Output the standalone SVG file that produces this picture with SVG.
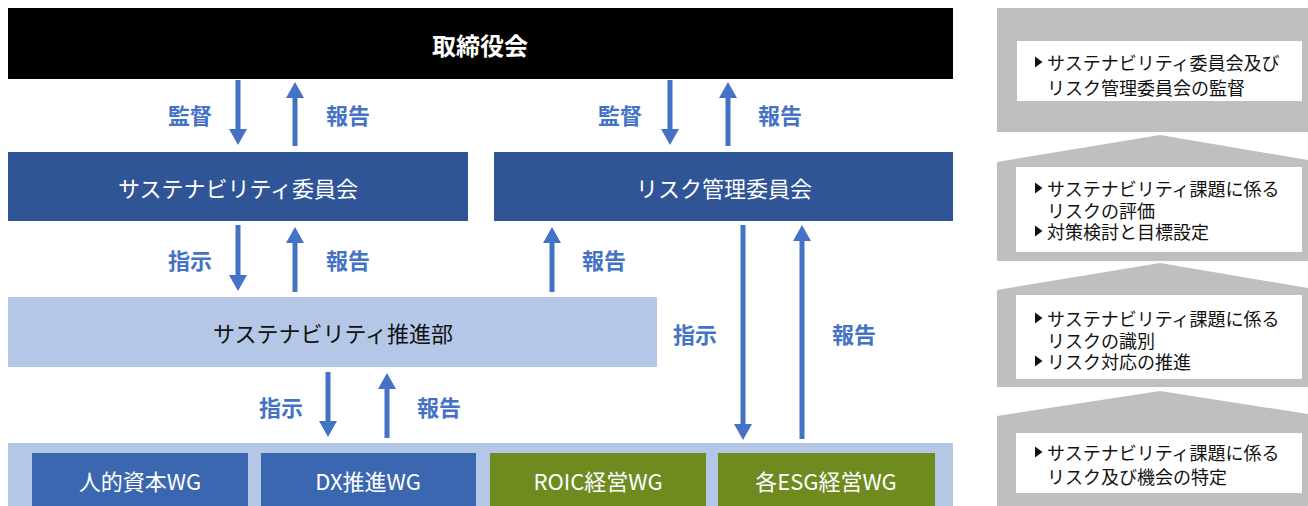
<svg xmlns="http://www.w3.org/2000/svg" width="1308" height="506" viewBox="0 0 1308 506">
<defs>
<marker id="ah" markerUnits="userSpaceOnUse" markerWidth="16" markerHeight="18" refX="0" refY="9" orient="auto">
<path d="M0,0 L16,9 L0,18 z" fill="#4472C4"/>
</marker>
<style>
text{font-family:"Noto Sans CJK JP","Noto Sans",sans-serif;dominant-baseline:central;}
.c{text-anchor:middle;}
.w{fill:#ffffff;}
.lbl{fill:#4472C4;font-weight:bold;font-size:22px;text-anchor:middle;}
.ar{stroke:#4472C4;stroke-width:5;fill:none;marker-end:url(#ah);}
.gray{fill:#BFBFBF;}
.wb{fill:#ffffff;}
.pt{font-size:18px;fill:#111111;}
.bul{fill:#111111;}
</style>
</defs>
<rect width="1308" height="506" fill="#ffffff"/>

<g id="board">
<rect x="8" y="8" width="945" height="71" fill="#000000"/>
<text x="480" y="44" class="c w" font-size="24" font-weight="bold">取締役会</text>
</g>

<g id="sus-committee">
<rect x="8" y="152" width="460" height="69" fill="#2F5597"/>
<text x="238" y="187" class="c w" font-size="22">サステナビリティ委員会</text>
</g>

<g id="risk-committee">
<rect x="494" y="152" width="459" height="69" fill="#2F5597"/>
<text x="724" y="187" class="c w" font-size="22">リスク管理委員会</text>
</g>

<g id="sus-dept">
<rect x="8" y="297" width="649" height="70" fill="#B4C7E7"/>
<text x="333" y="332" class="c" font-size="22" fill="#111111">サステナビリティ推進部</text>
</g>

<g id="wg-bar">
<rect x="8" y="443" width="945" height="63" fill="#B4C7E7"/>
</g>
<g id="wg-hr">
<rect x="32" y="453" width="216" height="53" fill="#3A67B0"/>
<text x="140" y="480" class="c w" font-size="22">人的資本WG</text>
</g>
<g id="wg-dx">
<rect x="261" y="453" width="215" height="53" fill="#3A67B0"/>
<text x="368" y="480" class="c w" font-size="22">DX推進WG</text>
</g>
<g id="wg-roic">
<rect x="490" y="453" width="216" height="53" fill="#6F8B1F"/>
<text x="598" y="480" class="c w" font-size="22">ROIC経営WG</text>
</g>
<g id="wg-esg">
<rect x="718" y="453" width="217" height="53" fill="#6F8B1F"/>
<text x="826" y="480" class="c w" font-size="22">各ESG経営WG</text>
</g>

<g id="connectors">
<line class="ar" x1="238" y1="80" x2="238" y2="129"/>
<line class="ar" x1="295" y1="146" x2="295" y2="98"/>
<line class="ar" x1="670" y1="80" x2="670" y2="129"/>
<line class="ar" x1="728" y1="146" x2="728" y2="98"/>
<line class="ar" x1="238" y1="225" x2="238" y2="275"/>
<line class="ar" x1="295" y1="292" x2="295" y2="243"/>
<line class="ar" x1="552" y1="292" x2="552" y2="243"/>
<line class="ar" x1="743" y1="225" x2="743" y2="424"/>
<line class="ar" x1="802" y1="439" x2="802" y2="241"/>
<line class="ar" x1="328" y1="372" x2="328" y2="421"/>
<line class="ar" x1="387" y1="438" x2="387" y2="389"/>
<text x="190" y="114" class="lbl">監督</text>
<text x="348" y="114" class="lbl">報告</text>
<text x="620" y="114" class="lbl">監督</text>
<text x="780" y="114" class="lbl">報告</text>
<text x="190" y="259" class="lbl">指示</text>
<text x="348" y="259" class="lbl">報告</text>
<text x="604" y="259" class="lbl">報告</text>
<text x="695" y="333" class="lbl">指示</text>
<text x="854" y="333" class="lbl">報告</text>
<text x="281" y="406" class="lbl">指示</text>
<text x="439" y="406" class="lbl">報告</text>
</g>

<g id="panel-1">
<rect class="gray" x="997" y="8" width="311" height="124"/>
<rect class="wb" x="1017" y="41" width="285" height="60"/>
<polygon class="bul" points="1035,56.5 1042.5,62 1035,67.5"/>
<text x="1047" y="62" class="pt">サステナビリティ委員会及び</text>
<text x="1047" y="87" class="pt">リスク管理委員会の監督</text>
</g>

<g id="panel-2">
<polygon class="gray" points="997,162 1160,135 1308,160 1308,261 997,261"/>
<rect class="wb" x="1016" y="167" width="286" height="85"/>
<polygon class="bul" points="1035,182.5 1042.5,188 1035,193.5"/>
<text x="1047" y="188" class="pt">サステナビリティ課題に係る</text>
<text x="1047" y="210" class="pt">リスクの評価</text>
<polygon class="bul" points="1035,225.5 1042.5,231 1035,236.5"/>
<text x="1047" y="231" class="pt">対策検討と目標設定</text>
</g>

<g id="panel-3">
<polygon class="gray" points="997,290 1160,263 1308,288 1308,387 997,387"/>
<rect class="wb" x="1016" y="295" width="286" height="84"/>
<polygon class="bul" points="1035,312.5 1042.5,318 1035,323.5"/>
<text x="1047" y="318" class="pt">サステナビリティ課題に係る</text>
<text x="1047" y="340" class="pt">リスクの識別</text>
<polygon class="bul" points="1035,355.5 1042.5,361 1035,366.5"/>
<text x="1047" y="361" class="pt">リスク対応の推進</text>
</g>

<g id="panel-4">
<polygon class="gray" points="997,416 1160,391 1308,414 1308,506 997,506"/>
<rect class="wb" x="1016" y="433" width="286" height="60"/>
<polygon class="bul" points="1035,446.5 1042.5,452 1035,457.5"/>
<text x="1047" y="452" class="pt">サステナビリティ課題に係る</text>
<text x="1047" y="476" class="pt">リスク及び機会の特定</text>
</g>
</svg>
